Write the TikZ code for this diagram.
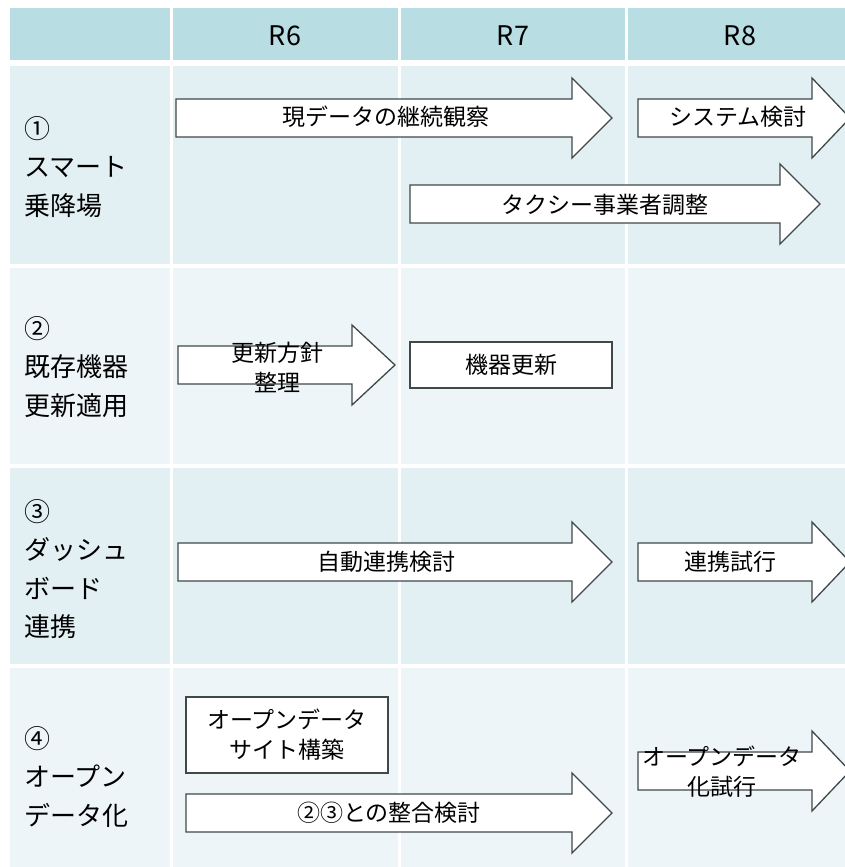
\documentclass[tikz,border=0pt]{standalone}
\usepackage{fontspec}
\setmainfont{Noto Sans CJK JP}
\definecolor{headc}{HTML}{B8DDE2}
\definecolor{rowA}{HTML}{E3F0F3}
\definecolor{rowB}{HTML}{EEF5F8}
\definecolor{edge}{HTML}{404848}
\newcommand\barrow[7]{% name, left x, neck x, tip x, centre y, half body, half head
  \draw[arrowline] (#2,#5-#6) -- (#3,#5-#6) -- (#3,#5-#7) -- (#4,#5) -- (#3,#5+#7) -- (#3,#5+#6) -- (#2,#5+#6) -- cycle;
  \coordinate (#1) at ({(#2+#4)/2},#5);}
\begin{document}
\begin{tikzpicture}[x=1pt,y=-1pt,
  arrowline/.style={draw=edge,fill=white,line width=1.3pt,line join=miter},
  boxst/.style={draw=edge,fill=white,line width=1.3pt,inner sep=0},
  lbl/.style={inner sep=0,font=\fontsize{23}{30}\selectfont,align=center},
  side/.style={inner sep=0,anchor=north west,font=\fontsize{26}{38.5}\selectfont,align=left},
  hd/.style={inner sep=0,font=\fontsize{27}{30}\selectfont}]
\useasboundingbox (0,0) rectangle (845,867);
\clip (0,0) rectangle (845,867);
\fill[white] (0,0) rectangle (845,867);
% header
\foreach \a/\b in {10/170,173/398,401/625,628/850}
  \fill[headc] (\a,8) rectangle (\b,60);
% rows
\foreach \ya/\yb/\c in {66/264/rowA,268/464/rowB,468/664/rowA,668/870/rowB}
  \foreach \a/\b in {10/170,173/398,401/625,628/850}
    \fill[\c] (\a,\ya) rectangle (\b,\yb);
% header text
\node[hd] (r6) at (285,36) {R6};
\node[hd] (r7) at (513,36) {R7};
\node[hd] (r8) at (740,36) {R8};
% side labels
\node[side] (s1) at (24,116) {①\\スマート\\乗降場};
\node[side] (s2) at (24,316) {②\\既存機器\\更新適用};
\node[side] (s3) at (24,499) {③\\ダッシュ\\ボード\\連携};
\node[side] (s4) at (24,726) {④\\オープン\\データ化};
% row 1
\barrow{a1}{176}{572}{612}{118}{19}{40}
\node[lbl] (t1) at (386,117) {現データの継続観察};
\barrow{a2}{638}{812}{850}{118}{19}{40}
\node[lbl] (t2) at (738,117) {システム検討};
\barrow{a3}{410}{780}{820}{204}{19}{40}
\node[lbl] (t3) at (605,205) {タクシー事業者調整};
% row 2
\barrow{a4}{178}{352}{395}{365}{19}{40}
\node[lbl] (t4) at (277,367) {更新方針\\整理};
\node[boxst,minimum width=202pt,minimum height=46pt] (b1) at (511,365) {};
\node[lbl] (t5) at (511,365) {機器更新};
% row 3
\barrow{a5}{178}{572}{612}{562}{19}{40}
\node[lbl] (t6) at (386,562) {自動連携検討};
\barrow{a6}{638}{812}{850}{562}{19}{40}
\node[lbl] (t7) at (730,562) {連携試行};
% row 4
\node[boxst,minimum width=202pt,minimum height=76pt] (b2) at (287,735) {};
\node[lbl] (t8) at (287,735) {オープンデータ\\サイト構築};
\barrow{a7}{186}{572}{612}{813}{19}{40}
\node[lbl] (t9) at (389,813) {②③との整合検討};
\barrow{a8}{638}{812}{850}{771}{19}{40}
\node[lbl] (t10) at (722,772) {オープンデータ\\化試行};
\end{tikzpicture}
\end{document}
